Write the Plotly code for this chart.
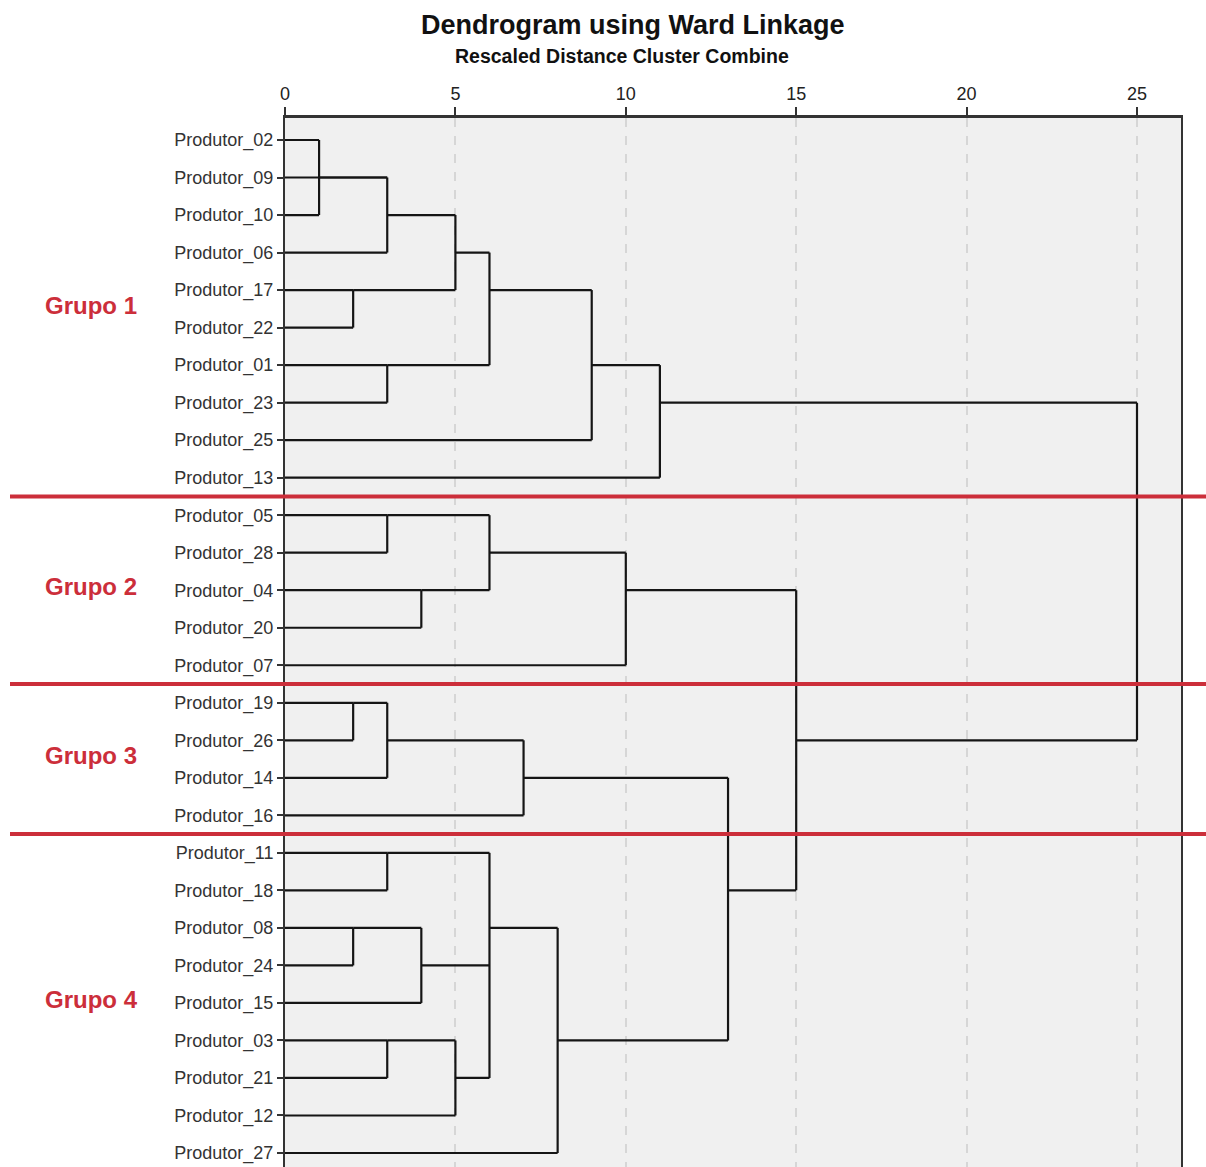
import plotly.graph_objects as go

# ---------------- data ----------------
leaf_labels = [
    "Produtor_02", "Produtor_09", "Produtor_10", "Produtor_06", "Produtor_17",
    "Produtor_22", "Produtor_01", "Produtor_23", "Produtor_25", "Produtor_13",
    "Produtor_05", "Produtor_28", "Produtor_04", "Produtor_20", "Produtor_07",
    "Produtor_19", "Produtor_26", "Produtor_14", "Produtor_16", "Produtor_11",
    "Produtor_18", "Produtor_08", "Produtor_24", "Produtor_15", "Produtor_03",
    "Produtor_21", "Produtor_12", "Produtor_27",
]
n_leaves = len(leaf_labels)

# merges: node ids < 28 are leaves, 28+ are previous merges (in order)
merge_children = [
    [0, 2], [28, 1, 3], [4, 5], [29, 30], [6, 7], [31, 32], [33, 8], [34, 9],
    [10, 11], [12, 13], [36, 37], [38, 14],
    [15, 16], [40, 17], [41, 18],
    [19, 20], [21, 22], [44, 23], [24, 25], [46, 26], [43, 45, 47], [48, 27],
    [42, 49], [39, 50], [35, 51],
]
merge_heights = [1, 3, 2, 5, 3, 6, 9, 11,
                 3, 4, 6, 10,
                 2, 3, 7,
                 3, 2, 4, 3, 5, 6, 8,
                 13, 15, 25]
merge_rows = [1, 2, 4, 3, 6, 4, 6, 7,
              10, 12, 11, 12,
              15, 16, 17,
              19, 21, 22, 24, 25, 21, 24,
              20, 16, None]

group_names = ["Grupo 1", "Grupo 2", "Grupo 3", "Grupo 4"]
group_sizes = [10, 5, 4, 9]

x_ticks = [0, 5, 10, 15, 20, 25]

# ---------------- build dendrogram segments ----------------
node_height = {i: 0 for i in range(n_leaves)}
node_row = {i: i for i in range(n_leaves)}
xs, ys = [], []
for k, (children, h, r) in enumerate(zip(merge_children, merge_heights, merge_rows)):
    nid = n_leaves + k
    rows = [node_row[c] for c in children]
    # vertical connector
    xs += [h, h, None]
    ys += [min(rows), max(rows), None]
    # horizontal branches
    for c in children:
        xs += [node_height[c], h, None]
        ys += [node_row[c], node_row[c], None]
    node_height[nid] = h
    node_row[nid] = r

fig = go.Figure()
fig.add_trace(go.Scatter(
    x=xs, y=ys, mode="lines",
    line=dict(color="#151515", width=2.2),
    hoverinfo="skip", showlegend=False,
))

# ---------------- layout geometry ----------------
W, H = 1206, 1167
L, R, T, B = 285, 25, 118, 0
plot_w = W - L - R
px_per_unit = (1137 - 285) / 25.0
x_max = plot_w / px_per_unit
row_px = (1153 - 140) / 27.0
y_top = -(140 - T) / row_px
y_bot = 27 + (H - B - 1153) / row_px

def paper_x(px):
    return (px - L) / plot_w

def paper_y(py):
    return (H - B - py) / (H - T - B)

# red group separators & group labels
shapes = []
annotations = []
start = 0
red = "#cc2e3a"
for gi, (gname, gsize) in enumerate(zip(group_names, group_sizes)):
    end = start + gsize - 1
    mid = (start + end) / 2.0
    annotations.append(dict(
        x=paper_x(91), xref="paper", y=mid - 0.1, yref="y",
        text="<b>%s</b>" % gname, showarrow=False,
        xanchor="center", yanchor="middle",
        font=dict(family="Arial, Liberation Sans", size=24, color=red),
    ))
    if gi < len(group_names) - 1:
        b = end + 0.5
        shapes.append(dict(
            type="line", xref="paper", yref="y",
            x0=paper_x(10), x1=paper_x(1206), y0=b, y1=b,
            line=dict(color=red, width=4), layer="above",
        ))
    start = end + 1

annotations.append(dict(
    x=paper_x(633), xref="paper", y=paper_y(25), yref="paper",
    text="<b>Dendrogram using Ward Linkage</b>", showarrow=False,
    xanchor="center", yanchor="middle",
    font=dict(family="Arial, Liberation Sans", size=27, color="#111111"),
))
annotations.append(dict(
    x=paper_x(622), xref="paper", y=paper_y(56), yref="paper",
    text="<b>Rescaled Distance Cluster Combine</b>", showarrow=False,
    xanchor="center", yanchor="middle",
    font=dict(family="Arial, Liberation Sans", size=19.5, color="#111111"),
))

fig.update_layout(
    width=W, height=H,
    margin=dict(l=L, r=R, t=T, b=B, pad=0),
    paper_bgcolor="white",
    plot_bgcolor="#f0f0f0",
    shapes=shapes,
    annotations=annotations,
    showlegend=False,
    xaxis=dict(
        side="top", range=[0, x_max], tickmode="array", tickvals=x_ticks,
        ticktext=[str(t) for t in x_ticks],
        ticks="outside", ticklen=8, tickwidth=2, tickcolor="#333333",
        showline=True, linewidth=2.5, linecolor="#333333", mirror=False,
        showgrid=True, gridcolor="#d6d6d6", griddash="dash", gridwidth=1.5,
        zeroline=False, automargin=False,
        tickfont=dict(family="Arial, Liberation Sans", size=18, color="#222222"),
    ),
    yaxis=dict(
        range=[y_bot, y_top], tickmode="array",
        tickvals=list(range(n_leaves)), ticktext=leaf_labels,
        ticks="outside", ticklen=6, tickwidth=1.5, tickcolor="#333333",
        showline=True, linewidth=2, linecolor="#333333", mirror=True,
        showgrid=False, zeroline=False, automargin=False,
        tickfont=dict(family="Arial, Liberation Sans", size=18, color="#333333"),
    ),
)

fig.write_html("out.html", config={"displayModeBar": False},
               post_script="document.body.style.margin='0';")
